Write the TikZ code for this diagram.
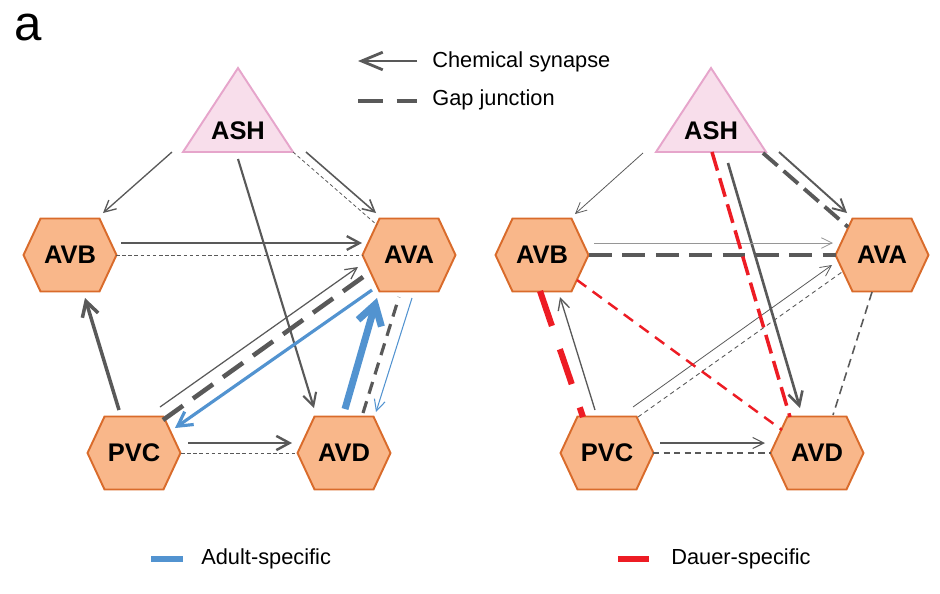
\documentclass[tikz,border=0pt]{standalone}
\usepackage{fontspec}
\setmainfont{Liberation Sans}
\usetikzlibrary{arrows.meta, calc, shapes.symbols}
\definecolor{syn-gray}{RGB}{89,89,89}
\definecolor{syn-light}{RGB}{150,150,150}
\definecolor{adult-blue}{RGB}{82,147,208}
\definecolor{dauer-red}{RGB}{237,28,36}
\definecolor{hex-fill}{RGB}{249,183,138}
\definecolor{hex-line}{RGB}{217,107,43}
\definecolor{tri-fill}{RGB}{248,222,235}
\definecolor{tri-line}{RGB}{230,165,203}

\begin{document}
\begin{tikzpicture}[x=0.02cm, y=-0.02cm,
  neuron/.style={signal, signal to=east and west, signal pointer angle=130, draw=hex-line, line width=1.1pt,
    fill=hex-fill, minimum width=1.86cm, minimum height=1.46cm, inner sep=0pt, font=\fontsize{14.5}{16}\selectfont\bfseries},
  sensory/.style={inner sep=0pt, font=\fontsize{14.5}{16}\selectfont\bfseries},
  soma/.style={draw=tri-line, fill=tri-fill, line width=1.1pt},
  chem/.style={draw=syn-gray, -{Straight Barb[length=5.5pt 1.4, width=5pt 2.2]}},
  gap/.style={draw=syn-gray},
  legend/.style={anchor=base west, inner sep=0pt, font=\fontsize{12.4}{14}\selectfont},
]
  \useasboundingbox (0,0) rectangle (940,593);

  % Panel label
  \node[anchor=base west, inner sep=0pt, font=\fontsize{28}{30}\selectfont] (panel) at (14,40) {a};

  % Legend (top)
  \coordinate (chemR) at (417,61);
  \coordinate (chemL) at (358,61);
  \draw[draw=syn-gray, line width=1.6pt, -{Straight Barb[length=12pt, width=10pt]}] (chemR) -- (chemL);
  \node[legend] (chemtxt) at (432,67) {Chemical synapse};
  \coordinate (gapL) at (358,101);
  \coordinate (gapR) at (417,101);
  \draw[gap, line width=1.8pt, dash pattern=on 14pt off 8pt] (gapL) -- (gapR);
  \node[legend] (gaptxt) at (432,105) {Gap junction};

  % Adult network
  \filldraw[soma] (238,68) -- (293,152) -- (183,152) -- cycle;
  \node[sensory] (ASH) at (238,131) {ASH};
  \node[neuron] (AVB) at (70,255) {AVB};
  \node[neuron] (AVA) at (409,255) {AVA};
  \node[neuron] (PVC) at (134,453) {PVC};
  \node[neuron] (AVD) at (344,453) {AVD};

  \draw[chem, line width=0.75pt] ($(ASH)+(-66,21)$) -- ($(AVB)+(33,-42)$);
  \draw[chem, line width=0.9pt] ($(ASH)+(68,21)$) -- ($(AVA)+(-33,-42)$);
  \draw[gap, line width=0.45pt, dash pattern=on 2pt off 1.5pt] ($(ASH)+(55,21)$) -- ($(AVA)+(-32,-30)$);
  \draw[chem, line width=1.2pt] ($(ASH)+(0,28)$) -- ($(AVD)+(-30,-45)$);
  \draw[chem, line width=1.3pt] ($(AVB)+(51,-12)$) -- ($(AVA)+(-47,-12)$);
  \draw[gap, line width=0.5pt, dash pattern=on 2pt off 1.5pt] ($(AVB)+(46,0)$) -- ($(AVA)+(-47,0)$);
  \draw[chem, line width=2pt] ($(PVC)+(-15,-43)$) -- ($(AVB)+(15,43)$);
  \draw[chem, line width=0.7pt] ($(PVC)+(26,-46)$) -- ($(AVA)+(-51,12)$);
  \draw[gap, line width=2.6pt, dash pattern=on 14pt off 7pt] ($(PVC)+(29,-33)$) -- ($(AVA)+(-39,17)$);
  \draw[chem, line width=1.4pt] ($(PVC)+(54,-10)$) -- ($(AVD)+(-52,-10)$);
  \draw[gap, line width=0.5pt, dash pattern=on 2pt off 1.5pt] ($(PVC)+(47,0)$) -- ($(AVD)+(-47,0)$);
  \draw[gap, line width=1.8pt, dash pattern=on 7pt off 4.5pt] ($(AVD)+(19,-40)$) -- ($(AVA)+(-10,42)$);
  % adult-specific
  \draw[chem, draw=adult-blue, line width=1.8pt] ($(AVA)+(-37,35)$) -- ($(PVC)+(41,-25)$);
  \draw[chem, draw=adult-blue, line width=4pt] ($(AVD)+(1,-44)$) -- ($(AVA)+(-32,43)$);
  \draw[chem, draw=adult-blue, line width=0.6pt] ($(AVA)+(3,43)$) -- ($(AVD)+(32,-41)$);

  % Dauer network
  \filldraw[soma] (711,68) -- (766,152) -- (656,152) -- cycle;
  \node[sensory] (ASHd) at (711,131) {ASH};
  \node[neuron] (AVBd) at (542,255) {AVB};
  \node[neuron] (AVAd) at (882,255) {AVA};
  \node[neuron] (PVCd) at (607,453) {PVC};
  \node[neuron] (AVDd) at (817,453) {AVD};

  \draw[chem, line width=0.45pt] ($(ASHd)+(-68,22)$) -- ($(AVBd)+(33,-41)$);
  \draw[gap, line width=2.2pt, dash pattern=on 11pt off 4.5pt] ($(ASHd)+(52,22)$) -- ($(AVAd)+(-34,-28)$);
  \draw[chem, line width=1.1pt] ($(ASHd)+(68,21)$) -- ($(AVAd)+(-35,-42)$);
  \draw[chem, line width=1.5pt] ($(ASHd)+(17,32)$) -- ($(AVDd)+(-17,-45)$);
  \draw[chem, draw=syn-light, line width=0.45pt] ($(AVBd)+(52,-12)$) -- ($(AVAd)+(-49,-12)$);
  \draw[gap, line width=2.6pt, dash pattern=on 13pt off 6pt] ($(AVBd)+(47,0)$) -- ($(AVAd)+(-46,0)$);
  \draw[chem, line width=0.75pt] ($(PVCd)+(-12,-43)$) -- ($(AVBd)+(18,42)$);
  \draw[chem, line width=0.45pt] ($(PVCd)+(26,-46)$) -- ($(AVAd)+(-50,10)$);
  \draw[gap, line width=0.5pt, dash pattern=on 2.5pt off 2pt] ($(PVCd)+(31,-36)$) -- ($(AVAd)+(-40,17)$);
  \draw[chem, line width=0.6pt] ($(PVCd)+(53,-10)$) -- ($(AVDd)+(-52,-10)$);
  \draw[gap, line width=0.6pt, dash pattern=on 3.5pt off 2.5pt] ($(PVCd)+(46,0)$) -- ($(AVDd)+(-46,0)$);
  \draw[gap, line width=0.9pt, dash pattern=on 5pt off 3pt] ($(AVAd)+(-10,37)$) -- ($(AVDd)+(16,-38)$);
  % dauer-specific
  \draw[gap, draw=dauer-red, line width=2pt, dash pattern=on 11pt off 4.5pt] ($(ASHd)+(1,21)$) -- ($(AVDd)+(-27,-36)$);
  \draw[gap, draw=dauer-red, line width=3.5pt, dash pattern=on 21pt off 14pt] ($(AVBd)+(-2,36)$) -- ($(PVCd)+(-24,-36)$);
  \draw[gap, draw=dauer-red, line width=1.4pt, dash pattern=on 6.5pt off 4.5pt] ($(AVBd)+(35,25)$) -- ($(AVDd)+(-35,-23)$);

  % Legend (bottom)
  \coordinate (blueL) at (151,559);
  \coordinate (blueR) at (183,559);
  \draw[draw=adult-blue, line width=3.4pt] (blueL) -- (blueR);
  \node[legend] (adulttxt) at (201,564) {Adult-specific};
  \coordinate (redL) at (618,559);
  \coordinate (redR) at (649,559);
  \draw[draw=dauer-red, line width=3.4pt] (redL) -- (redR);
  \node[legend] (dauertxt) at (671,564) {Dauer-specific};
\end{tikzpicture}
\end{document}
